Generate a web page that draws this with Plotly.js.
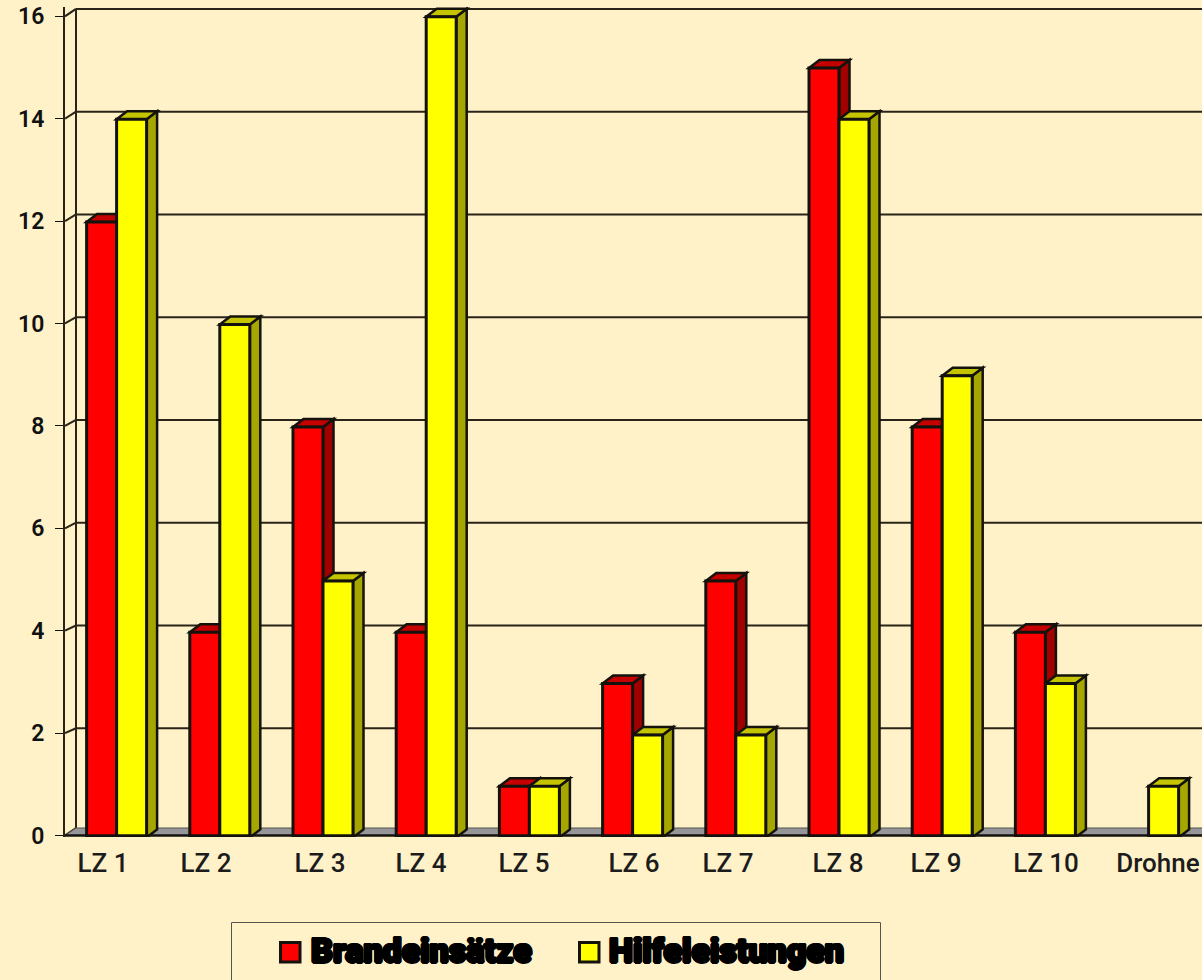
<!DOCTYPE html>
<html><head><meta charset="utf-8">
<script src="https://cdn.plot.ly/plotly-3.0.1.min.js"></script>
<style>html,body{margin:0;padding:0;background:#FFF1C8;overflow:hidden}</style>
</head><body><div id="chart" style="width:1202px;height:980px"></div>
<script>
const categories = ['LZ 1','LZ 2','LZ 3','LZ 4','LZ 5','LZ 6','LZ 7','LZ 8','LZ 9','LZ 10','Drohne'];
const brandeinsaetze = [12,4,8,4,1,3,5,15,8,4,0];
const hilfeleistungen = [14,10,5,16,1,2,2,14,9,3,1];
const yTicks = [0,2,4,6,8,10,12,14,16];
const labelCenters = [103,206,320,421,524,634,728,838,936,1046,1158];

const W=1202,H=980,L=65,T=7,B=143,catPx=103.2,unitPx=51.3,zeroPx=837.5;
const plotW=W-L, plotH=H-T-B;
const xMin=-0.5, xMax=xMin+plotW/catPx, yMin=(zeroPx-(H-B))/unitPx, yMax=yMin+plotH/unitPx;
const dx=10.5/catPx, dy=8/unitPx, wallDx=11/catPx, barW=30/catPx;
const bg='#FFF1C8', ink='#14120c', wall='#2a2418';
const pxX=p=>xMin+(p-L)/catPx;
const pxY=p=>(zeroPx-p)/unitPx;
const wallY=v=>v===0?pxY(828):pxY(831-51.38*v);
const tickY=v=>pxY(835.5-51.2*v);
const paperX=p=>(p-L)/plotW, paperY=p=>(H-B-p)/plotH;

const poly=(pts,fill,w=2.5,c=ink)=>({type:'path',xref:'x',yref:'y',layer:'below',
  path:'M'+pts.map(q=>q[0]+','+q[1]).join('L')+'Z',fillcolor:fill,line:{color:c,width:w}});
const seg=(x0,y0,x1,y1,layer='below',w=2)=>({type:'line',xref:'x',yref:'y',layer,x0,y0,x1,y1,line:{color:wall,width:w}});

const shapes=[];
yTicks.forEach(v=>{
  shapes.push(seg(xMin,tickY(v),xMin+wallDx,wallY(v)));
  if(v>0) shapes.push(seg(xMin+wallDx,wallY(v),xMax+1,wallY(v)));
});
shapes.push(seg(xMin+wallDx,wallY(0),xMin+wallDx,wallY(16)));
shapes.push(poly([[xMin,tickY(0)],[xMin+wallDx,wallY(0)],[xMax+1,wallY(0)],[xMax+1,tickY(0)]],'#96969a',1,'#55554f'));
function faces(x0,v,top,side){
  if(!v) return;
  const x1=x0+barW;
  shapes.push(poly([[x1,0],[x1+dx,dy],[x1+dx,v+dy],[x1,v]],side));
  shapes.push(poly([[x0,v],[x0+dx,v+dy],[x1+dx,v+dy],[x1,v]],top));
}
categories.forEach((c,i)=>{
  faces(i-barW,brandeinsaetze[i],'#C40000','#A00000');
  faces(i,hilfeleistungen[i],'#C4C400','#A6A600');
});
// front floor edge
shapes.push({type:'line',xref:'x',yref:'y',layer:'above',x0:xMin,x1:xMax+1,y0:tickY(0),y1:tickY(0),line:{color:ink,width:2.5}});
// legend box and swatches
const paperRect=(x0,y0,x1,y1,fill,c,w)=>({type:'rect',xref:'paper',yref:'paper',layer:'above',
  x0:paperX(x0),x1:paperX(x1),y0:paperY(y1),y1:paperY(y0),fillcolor:fill,line:{color:c,width:w}});
shapes.push(paperRect(231.5,922.5,880.5,1000,bg,'#55554f',1));
shapes.push(paperRect(280.5,942.5,300,962,'#FF0000',ink,3));
shapes.push(paperRect(579.5,942.5,599,962,'#FFFF00',ink,3));

const heavy={family:'Roboto,sans-serif',size:34,color:'#000',weight:900,
  shadow:'1.5px 0 0 #000,-1.5px 0 0 #000,0 1.5px 0 #000,0 -1.5px 0 #000,1px 1px 0 #000,-1px -1px 0 #000,1px -1px 0 #000,-1px 1px 0 #000'};
const annotations=[
  {xref:'paper',yref:'paper',x:paperX(310),y:paperY(950),xanchor:'left',yanchor:'middle',showarrow:false,text:'Brandeinsätze',font:heavy,borderpad:0},
  {xref:'paper',yref:'paper',x:paperX(608),y:paperY(950),xanchor:'left',yanchor:'middle',showarrow:false,text:'Hilfeleistungen',font:heavy,borderpad:0}
];

const bar=(name,y,color)=>({type:'bar',name,x:categories.map((c,i)=>i),y:y.map(v=>v||null),
  marker:{color,line:{color:ink,width:3}},cliponaxis:true});
Plotly.newPlot('chart',[bar('Brandeinsätze',brandeinsaetze,'#FF0000'),bar('Hilfeleistungen',hilfeleistungen,'#FFFF00')],{
  width:W,height:H,margin:{l:L,r:0,t:T,b:B,pad:0},paper_bgcolor:bg,plot_bgcolor:bg,
  barmode:'group',bargap:1-2*barW,bargroupgap:0,showlegend:false,shapes,annotations,
  xaxis:{type:'linear',range:[xMin,xMax],tickmode:'array',tickvals:labelCenters.map(pxX),ticktext:categories,
    ticks:'',showgrid:false,zeroline:false,showline:false,ticklabelstandoff:8,ticklabeloverflow:'allow',
    tickfont:{family:'Roboto,sans-serif',size:26,weight:500,color:'#1c1c1c'}},
  yaxis:{range:[yMin,yMax],tickmode:'array',tickvals:yTicks.map(tickY),ticktext:yTicks.map(String),ticks:'outside',ticklen:8,tickwidth:1,tickcolor:ink,
    showgrid:false,zeroline:false,showline:true,linecolor:wall,linewidth:2,ticklabelstandoff:6,
    tickfont:{family:'Roboto,sans-serif',size:23,weight:600,color:'#111'}}
},{displayModeBar:false,staticPlot:true});
</script></body></html>
